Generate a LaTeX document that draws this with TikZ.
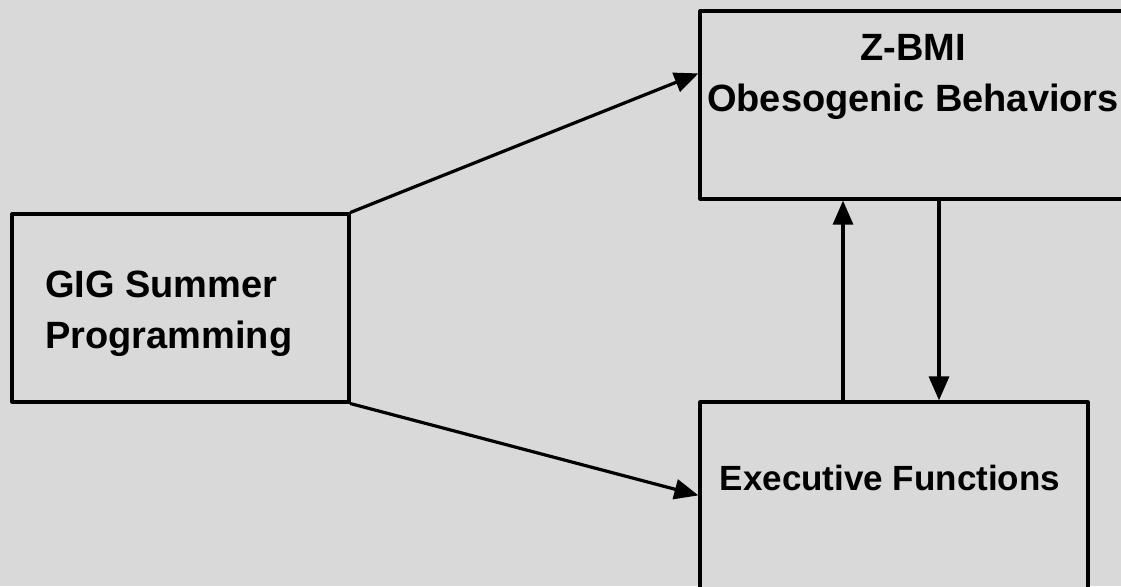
\documentclass[tikz,border=0pt]{standalone}
\usepackage{fontspec}
\setmainfont{Liberation Sans}
\usetikzlibrary{arrows.meta,positioning}
\definecolor{bggray}{RGB}{217,217,217}
\tikzset{
    box/.style={draw=black, line width=3.2pt, fill=bggray, rectangle, inner sep=0pt},
    lbl/.style={font=\bfseries\fontsize{38}{51}\selectfont, inner sep=0pt},
    link/.style={line width=3.2pt, -{Triangle[length=24pt,width=20pt]}}
}
\begin{document}
\begin{tikzpicture}[line cap=round, line join=round, x=1pt, y=1pt]
                \useasboundingbox[fill=bggray] (0, 0) rectangle (1121, -586);
                \clip (0, 0) rectangle (1121, -586);
                \node[box, minimum width=337pt, minimum height=188pt] (gig) at (180.5, -308) {};
                \node[box, minimum width=426pt, minimum height=188pt] (zbmi) at (913, -105) {};
                \node[box, minimum width=388pt, minimum height=200pt] (exec) at (894, -502) {};
                \node[lbl, align=left, anchor=west] (gigtext) at (45, -314) {GIG Summer\\Programming};
                \node[lbl, align=center, anchor=north] (zbmitext) at ([yshift=-25pt]zbmi.north) {Z-BMI\\Obesogenic Behaviors};
                \node[lbl, font=\bfseries\fontsize{35}{47}\selectfont] (exectext) at ([xshift=-4pt, yshift=-78pt]exec.north) {Executive Functions};
                \draw[link] (gig.north east) -- ([yshift=-64pt]zbmi.north west);
                \draw[link] (gig.south east) -- ([yshift=-95pt]exec.north west);
                \draw[link] ([xshift=-51pt]exec.north) -- ([xshift=-51pt]exec.north |- zbmi.south);
                \draw[link] ([xshift=45pt]exec.north |- zbmi.south) -- ([xshift=45pt]exec.north);
            \end{tikzpicture}
\end{document}
